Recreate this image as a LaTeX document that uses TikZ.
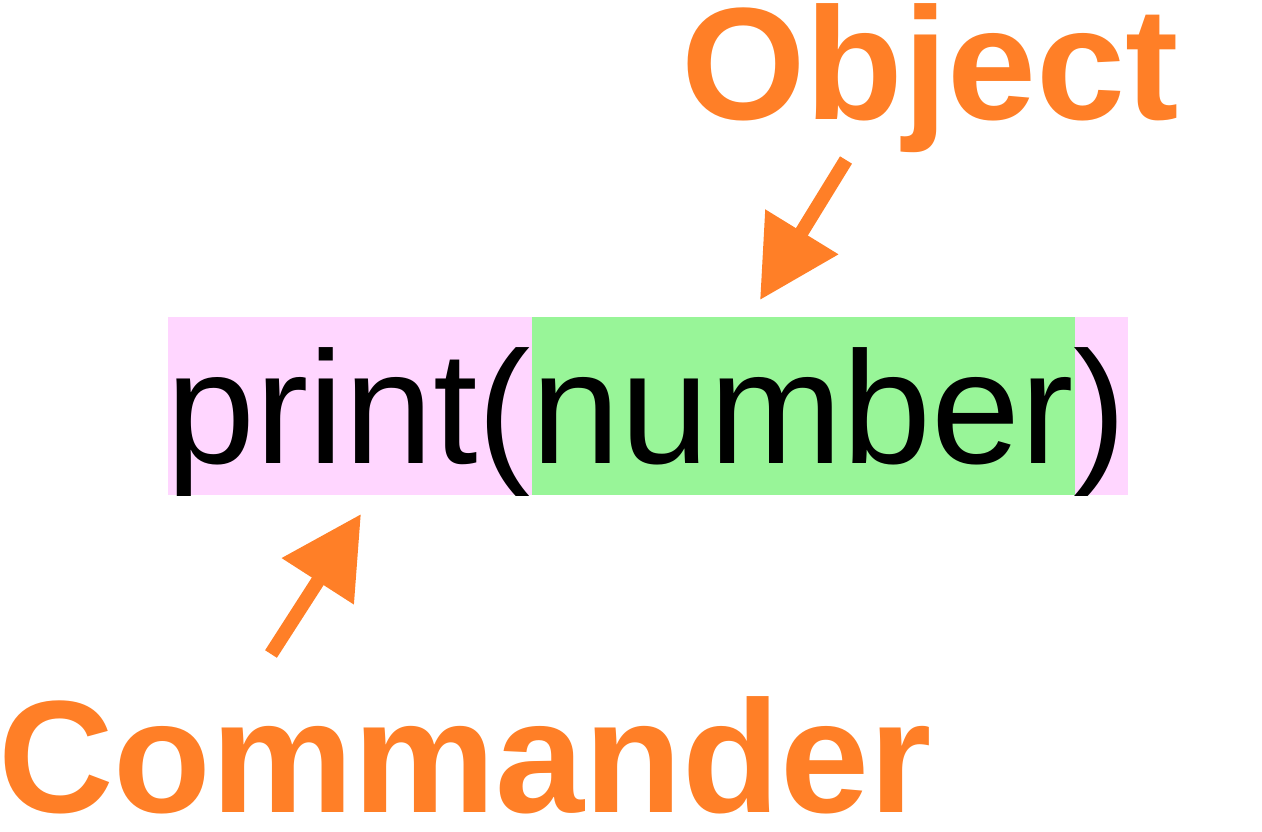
\documentclass[tikz,border=0pt]{standalone}
\usepackage{fontspec}
\setmainfont{Liberation Sans}
\usetikzlibrary{arrows.meta}
\definecolor{codeorange}{RGB}{255,127,39}
\definecolor{callpink}{RGB}{255,214,255}
\definecolor{arggreen}{RGB}{152,245,152}
\tikzset{
  label/.style={inner sep=0pt, anchor=base west, text=codeorange, font=\fontsize{160}{170}\selectfont\bfseries},
  code/.style={inner sep=0pt, anchor=base west, font=\fontsize{160}{170}\selectfont},
  pointer/.style={draw=codeorange, line width=14pt, -{Triangle[length=80pt,width=82pt]}}
}
\begin{document}
\begin{tikzpicture}[x=1pt,y=-1pt]
				\useasboundingbox (0,0) rectangle (1262,831);
				\fill[callpink] (168,317) rectangle (1128,495);
				\fill[arggreen] (532,317) rectangle (1075,495);
				\begin{scope}
					\clip (168,317) rectangle (1128,495);
					\node[code] (call) at (166.5,463) {print(number)};
				\end{scope}
				\node[label] (obj) at (681,119) {Object};
				\node[label] (cmd) at (-2,812) {Commander};
				\coordinate (objtail) at (846,160);
				\coordinate (objtip) at (760,300);
				\coordinate (cmdtail) at (271,654);
				\coordinate (cmdtip) at (361,514);
				\draw[pointer] (objtail) to (objtip);
				\draw[pointer] (cmdtail) to (cmdtip);
			\end{tikzpicture}
\end{document}
